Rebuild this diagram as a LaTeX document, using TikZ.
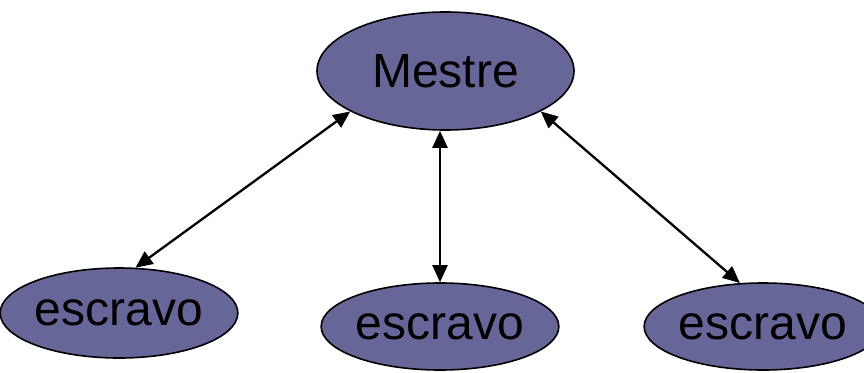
\documentclass[tikz,border=0pt]{standalone}
\usepackage{fontspec}
\setmainfont{Liberation Sans}
\usetikzlibrary{shapes.geometric,arrows.meta}
\definecolor{nodefill}{HTML}{666699}
\begin{document}
\begin{tikzpicture}[x=1pt,y=-1pt,
  bubble/.style={ellipse,draw=black,line width=1.6pt,fill=nodefill,inner sep=0pt,
    font=\fontsize{48}{50}\selectfont,text=black},
  link/.style={line width=2.3pt,{Triangle[length=17pt,width=15pt]}-{Triangle[length=17pt,width=15pt]}}]
\useasboundingbox (0,0) rectangle (864,372);
\node[bubble,minimum width=257pt,minimum height=118pt] (M) at (445.5,71) {Mestre};
\node[bubble,minimum width=210pt,minimum height=90pt] (S1) at (119,313) {escravo};
\node[bubble,minimum width=214pt,minimum height=87pt] (S2) at (440,326.5) {escravo};
\node[bubble,minimum width=198pt,minimum height=87pt] (S3) at (763,326.5) {escravo};
\draw[link] (M.203) -- (S1.70);
\draw[link] (M.south -| S2.north) -- (S2.north);
\draw[link] (M.337) -- (S3.118);
\end{tikzpicture}
\end{document}
